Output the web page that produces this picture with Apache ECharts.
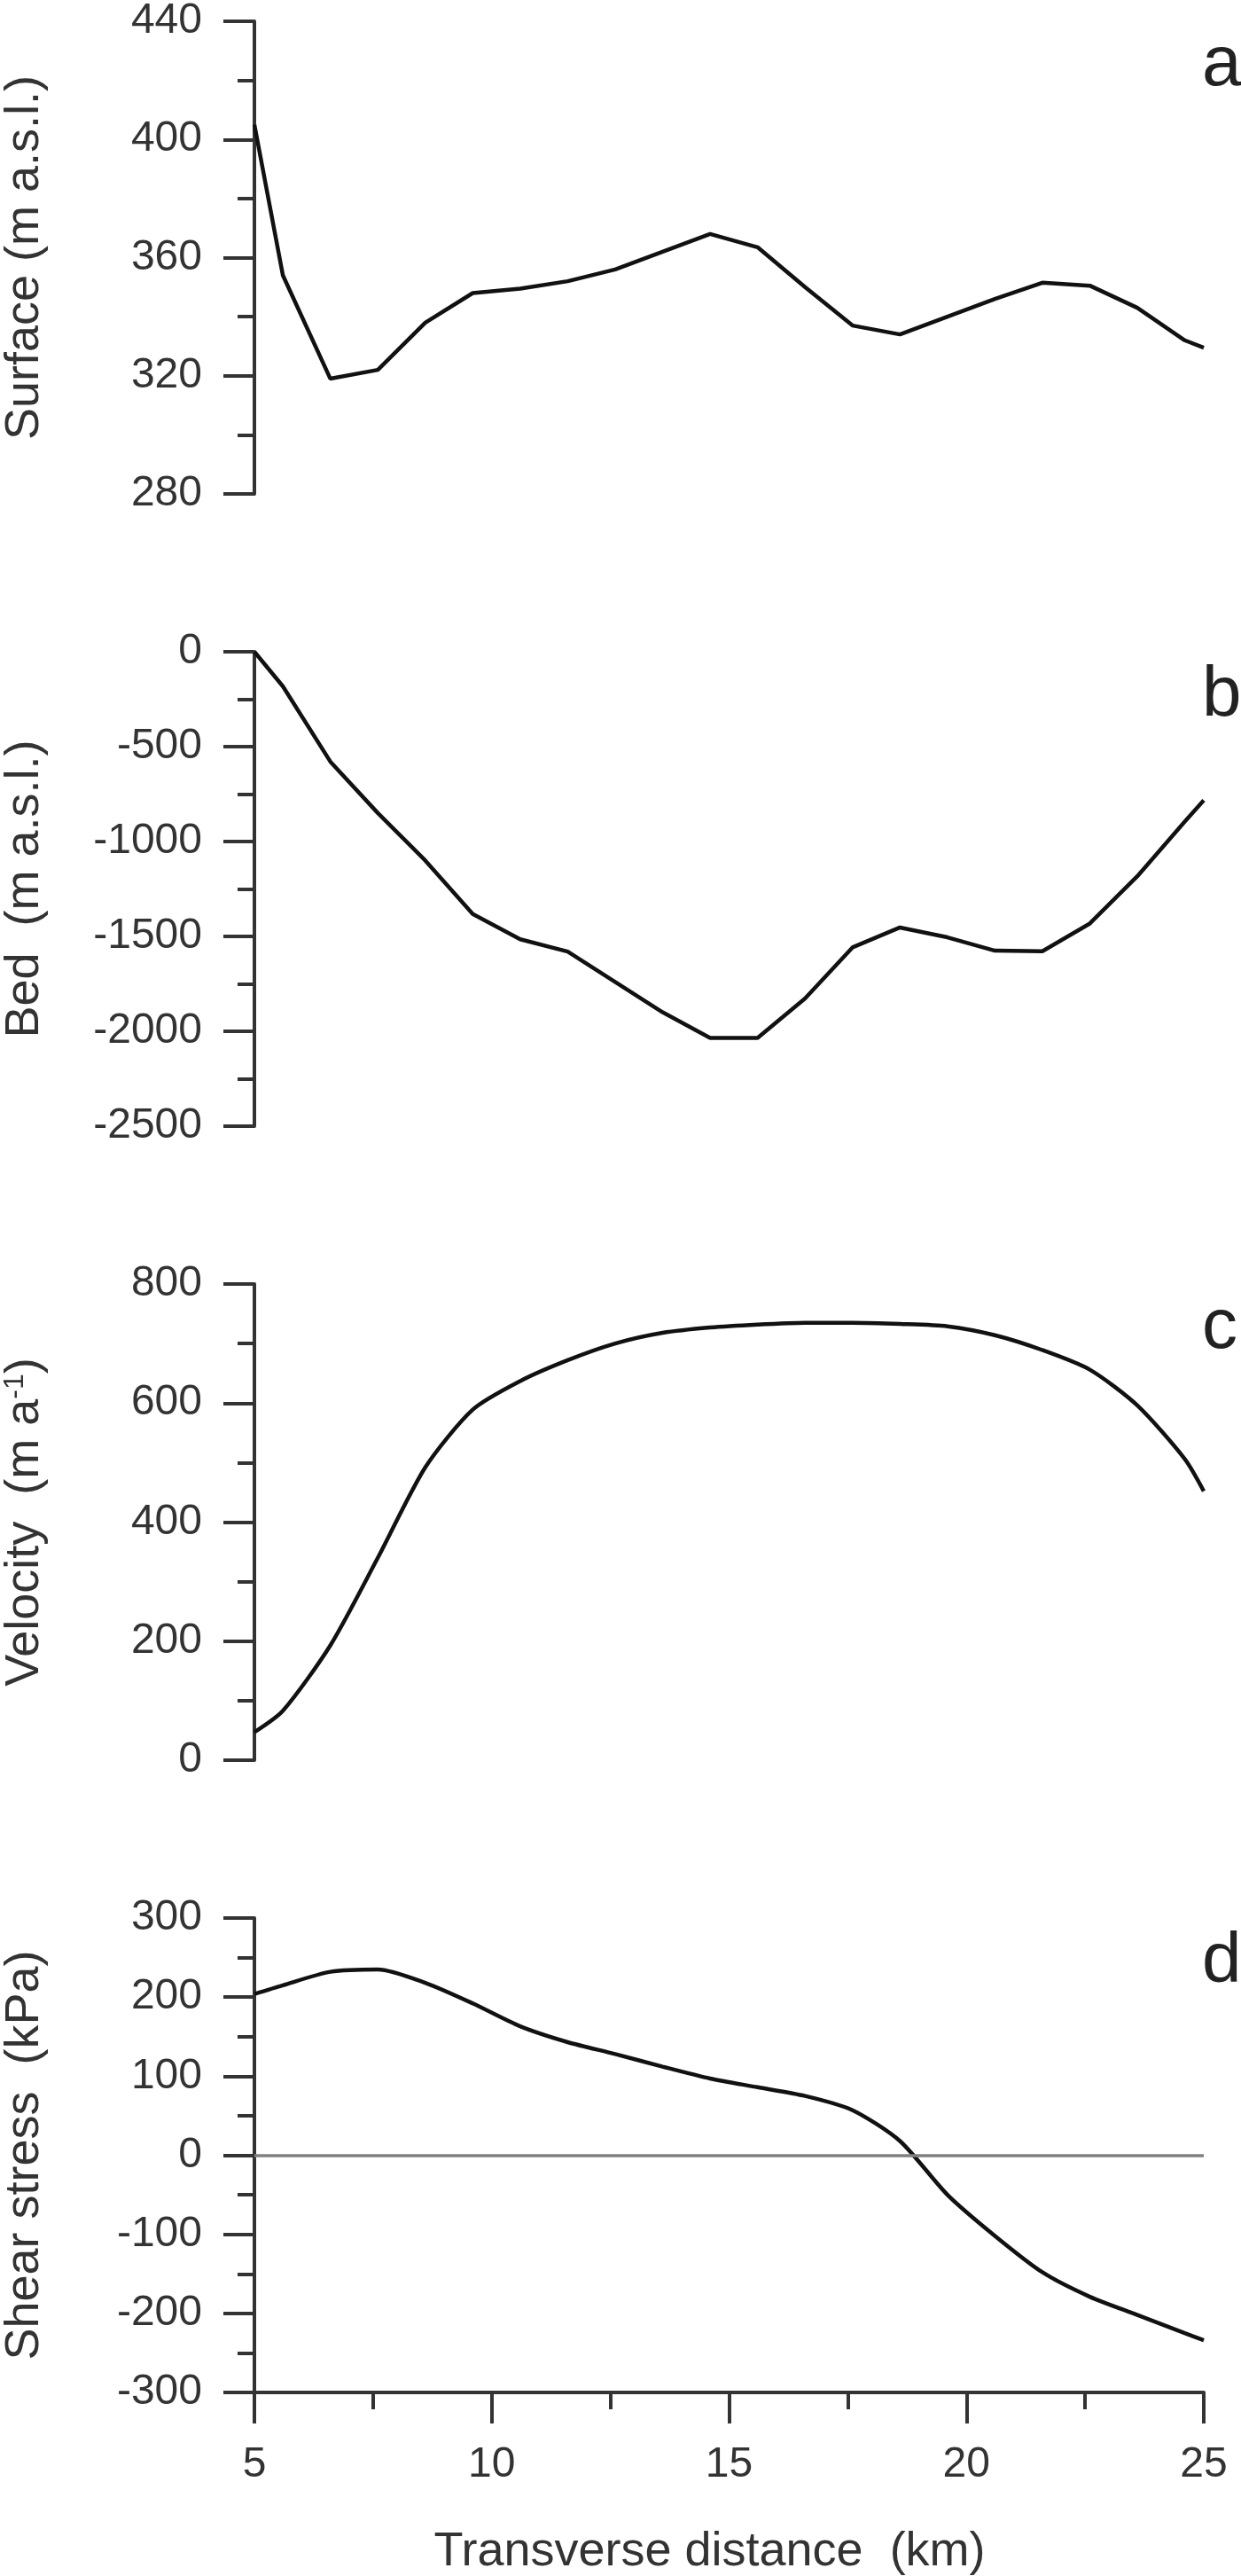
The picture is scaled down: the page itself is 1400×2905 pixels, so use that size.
<!DOCTYPE html>
<html>
<head>
<meta charset="utf-8">
<title>Transverse profiles</title>
<script src="https://cdn.jsdelivr.net/npm/echarts@6/dist/echarts.min.js"></script>
<style>
  html, body { margin: 0; padding: 0; background: #fff; }
  #chart { width: 1400px; height: 2905px; }
</style>
</head>
<body>
<div id="chart"></div>
<script>
// values, km along the transverse profile
const distanceKm = [5, 5.6, 6.6, 7.6, 8.6, 9.6, 10.6, 11.6, 12.6, 13.6, 14.6, 15.6, 16.6, 17.6, 18.6, 19.6, 20.6, 21.6, 22.6, 23.6, 24.6, 25]
const surfaceElev = [405, 354, 319, 322, 338, 348, 349.5, 352, 356, 362, 368, 363.5, 350, 337, 334, 340, 346, 351.5, 350.5, 343, 332, 329.5]
const bedElev = [0, -182, -579, -850, -1100, -1382, -1515, -1580, -1740, -1900, -2035, -2035, -1827, -1558, -1453, -1505, -1575, -1578, -1432, -1183, -895, -783]
const velocity = [47, 83, 193, 340, 492, 589, 637, 672, 700, 718, 727, 732, 735, 735, 733, 729, 714, 689, 656, 596, 506, 452]
const shearStress = [204, 215, 232, 235, 218, 192, 163, 143, 128, 112, 97, 86, 75, 57, 18, -50, -102, -148, -179, -202, -225, -234]

const xTicks = { min: 5, max: 25, interval: 5 }
const panelLetters = ['a', 'b', 'c', 'd']
const yNames = [
  'Surface (m a.s.l.)',
  'Bed  (m a.s.l.)',
  'Velocity  (m a{sup|-1})',
  'Shear stress  (kPa)'
]
const yRanges = [
  { min: 280, max: 440, interval: 40 },
  { min: -2500, max: 0, interval: 500 },
  { min: 0, max: 800, interval: 200 },
  { min: -300, max: 300, interval: 100 }
]
const xName = 'Transverse distance  (km)'

const FONT = "'Liberation Sans', Arial, sans-serif"
const AXIS_COLOR = '#333'
const axisLineStyle = { color: AXIS_COLOR, width: 4 }

// layout of the four stacked panels (pixels)
const layout = [
  { top: 24, height: 533, smooth: false },
  { top: 735, height: 535, smooth: false },
  { top: 1448, height: 537, smooth: 0.25 },
  { top: 2163, height: 535, smooth: 0.25 }
]
const seriesData = [surfaceElev, bedElev, velocity, shearStress]
const lastIdx = layout.length - 1

const chart = echarts.init(document.getElementById('chart'), null, { renderer: 'canvas' })

const option = {
  backgroundColor: '#fff',
  animation: false,
  grid: layout.map(p => ({
    left: 287,
    right: 42,
    top: p.top,
    height: p.height,
    containLabel: false,
    outerBoundsMode: 'none'
  })),
  xAxis: layout.map((p, i) => ({
    type: 'value',
    gridIndex: i,
    min: xTicks.min,
    max: xTicks.max,
    interval: xTicks.interval,
    show: i === lastIdx,
    axisLine: { show: true, onZero: false, lineStyle: axisLineStyle },
    axisTick: { show: true, length: 35, lineStyle: axisLineStyle },
    minorTick: { show: true, splitNumber: 2, length: 19, lineStyle: axisLineStyle },
    splitLine: { show: false },
    minorSplitLine: { show: false },
    axisLabel: { margin: 58, fontSize: 48, color: AXIS_COLOR, fontFamily: FONT },
    name: i === lastIdx ? xName : '',
    nameLocation: 'middle',
    nameGap: 153,
    nameTextStyle: { fontSize: 54, color: AXIS_COLOR, fontFamily: FONT, padding: [0, 44, 0, 0] }
  })),
  yAxis: layout.map((p, i) => ({
    type: 'value',
    gridIndex: i,
    min: yRanges[i].min,
    max: yRanges[i].max,
    interval: yRanges[i].interval,
    axisLine: { show: true, onZero: false, lineStyle: axisLineStyle },
    axisTick: { show: true, length: 35, lineStyle: axisLineStyle },
    minorTick: { show: true, splitNumber: 2, length: 19, lineStyle: axisLineStyle },
    splitLine: { show: false },
    minorSplitLine: { show: false },
    axisLabel: {
      margin: 59,
      fontSize: 48,
      color: AXIS_COLOR,
      fontFamily: FONT,
      formatter: v => String(v)
    },
    name: yNames[i],
    nameLocation: 'middle',
    nameGap: 232,
    nameTextStyle: {
      fontSize: 54,
      color: AXIS_COLOR,
      fontFamily: FONT,
      rich: {
        sup: { fontSize: 32, color: AXIS_COLOR, fontFamily: FONT, verticalAlign: 'top', padding: [0, 0, 22, 0] }
      }
    }
  })),
  series: layout.map((p, i) => ({
    type: 'line',
    xAxisIndex: i,
    yAxisIndex: i,
    data: distanceKm.map((x, k) => [x, seriesData[i][k]]),
    symbol: 'none',
    smooth: p.smooth,
    clip: false,
    lineStyle: { color: '#111', width: 4.5 },
    z: 3,
    markLine: i === lastIdx ? {
      silent: true,
      symbol: 'none',
      label: { show: false },
      lineStyle: { color: '#808080', width: 3.5, type: 'solid' },
      data: [{ yAxis: 0 }]
    } : undefined
  })),
  graphic: layout.map((p, i) => ({
    type: 'text',
    x: 1356,
    y: p.top + 50,
    style: {
      text: panelLetters[i],
      fontSize: 80,
      fontFamily: FONT,
      fill: '#222',
      align: 'left',
      verticalAlign: 'middle'
    }
  }))
}

chart.setOption(option)
window.addEventListener('resize', () => chart.resize())
</script>
</body>
</html>
